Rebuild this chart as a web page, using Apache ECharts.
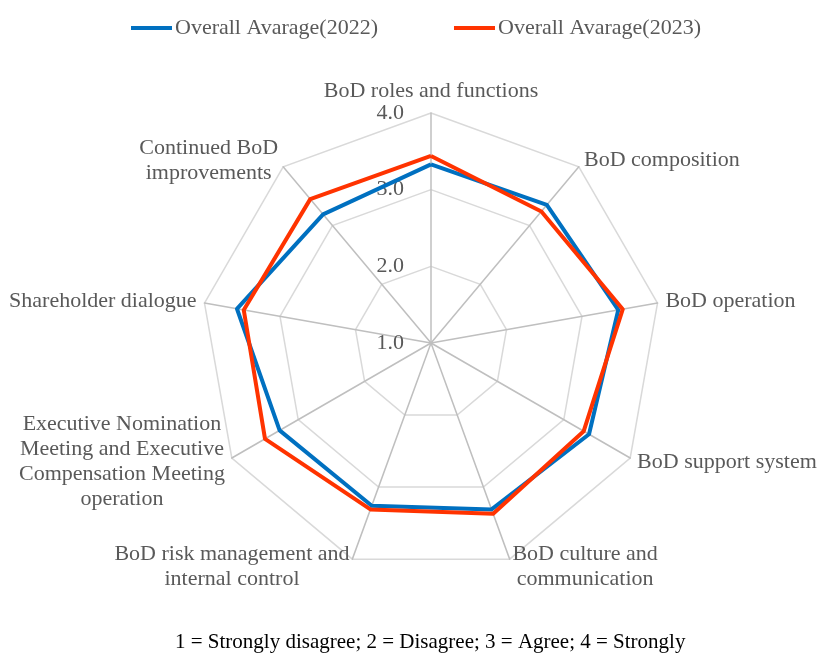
<!DOCTYPE html>
<html>
<head>
<meta charset="utf-8">
<script src="https://cdn.jsdelivr.net/npm/echarts@6/dist/echarts.min.js"></script>
<style>
  html, body { margin: 0; padding: 0; background: #fff; }
  #chart { width: 820px; height: 653px; }
</style>
</head>
<body>
<div id="chart"></div>
<script>
// categories, clockwise starting at the top
const categories = [
  'BoD roles and functions',
  'BoD composition',
  'BoD operation',
  'BoD support system',
  'BoD culture and\ncommunication',
  'BoD risk management and\ninternal control',
  'Executive Nomination\nMeeting and Executive\nCompensation Meeting\noperation',
  'Shareholder dialogue',
  'Continued BoD\nimprovements'
]
const avg2022 = [3.33, 3.35, 3.48, 3.38, 3.31, 3.26, 3.28, 3.57, 3.19]
const avg2023 = [3.44, 3.24, 3.54, 3.30, 3.37, 3.31, 3.50, 3.48, 3.45]
const seriesNames = ['Overall Avarage(2022)', 'Overall Avarage(2023)']
const scaleMin = 1
const scaleMax = 4
const footnote = '1 = Strongly disagree; 2 = Disagree; 3 = Agree; 4 = Strongly'

const textColor = '#595959'
const serif = '"Liberation Serif", "DejaVu Serif", serif'

// echarts lays indicators out counter-clockwise, so reverse everything after the first
const order = [0].concat(categories.map((_, i) => i).slice(1).reverse())
const pick = arr => order.map(i => arr[i])

const indicators = pick(categories).map((name, i) => ({
  name: name,
  min: scaleMin,
  max: scaleMax,
  axisLabel: { show: i === 0 } // only the top spoke carries the scale
}))

const chart = echarts.init(document.getElementById('chart'))
chart.setOption({
  backgroundColor: '#fff',
  animation: false,
  color: ['#0070C0', '#FF3300'],
  legend: {
    top: 12,
    left: 126,
    icon: 'rect',
    itemWidth: 41,
    itemHeight: 4,
    itemGap: 76,
    textStyle: { color: textColor, fontSize: 22, fontFamily: serif, padding: [0, 0, 0, -2] },
    data: seriesNames
  },
  title: {
    text: footnote,
    left: 170,
    top: 627,
    textStyle: { color: '#000', fontSize: 21, fontWeight: 'normal', fontFamily: serif }
  },
  radar: {
    center: [431, 343],
    radius: 230,
    startAngle: 90,
    splitNumber: 3,
    shape: 'polygon',
    nameGap: 8,
    axisName: {
      color: textColor,
      fontSize: 22,
      fontFamily: serif,
      formatter: name => name.split('\n').map(l => '{c|' + l + '}').join('\n'),
      rich: {
        c: { align: 'center', color: textColor, fontSize: 22, fontFamily: serif, lineHeight: 25 }
      }
    },
    axisLine: { lineStyle: { color: '#bfbfbf', width: 1.5 } },
    splitLine: { lineStyle: { color: '#d9d9d9', width: 1.5 } },
    splitArea: { show: false },
    axisTick: { show: false },
    axisLabel: {
      show: false,
      showMinLabel: true,
      color: textColor,
      fontSize: 22,
      fontFamily: serif,
      margin: 27,
      formatter: v => v.toFixed(1)
    },
    indicator: indicators
  },
  series: [{
    type: 'radar',
    symbol: 'none',
    data: [
      { name: seriesNames[0], value: pick(avg2022), lineStyle: { width: 4, color: '#0070C0' } },
      { name: seriesNames[1], value: pick(avg2023), lineStyle: { width: 4, color: '#FF3300' } }
    ]
  }]
})
</script>
</body>
</html>
